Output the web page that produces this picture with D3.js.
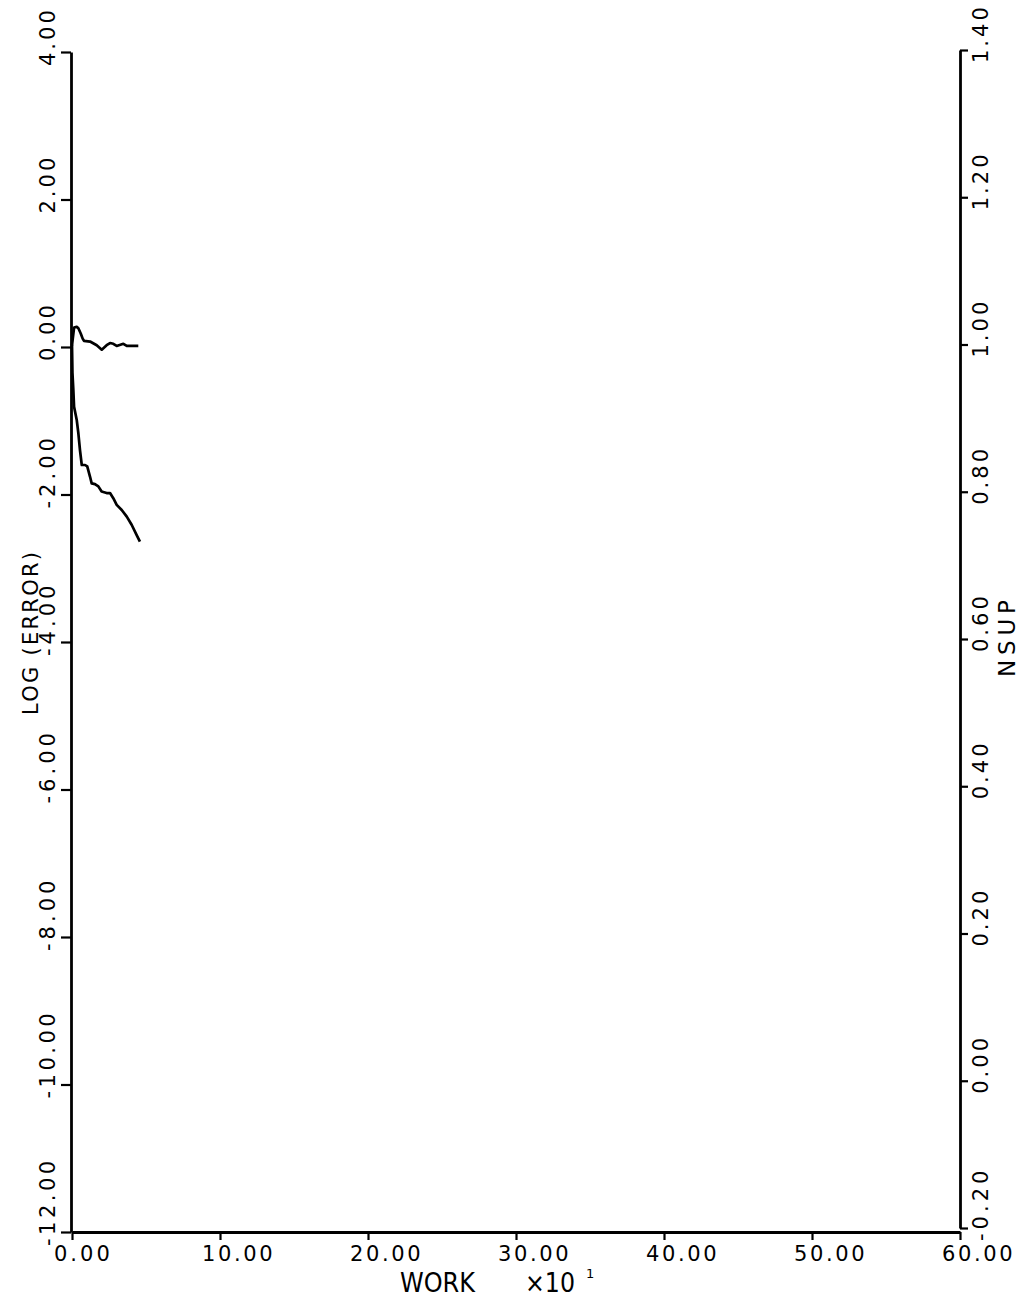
<!DOCTYPE html>
<html>
<head>
<meta charset="utf-8">
<script src="https://cdn.jsdelivr.net/npm/d3@7"></script>
<style>
  html, body { margin: 0; padding: 0; background: #fff; }
  svg { display: block; }
  text { font-family: "DejaVu Sans", "Liberation Sans", sans-serif; fill: #000; }
</style>
</head>
<body>
<svg id="chart" width="1027" height="1299"></svg>
<script>
// Tick values for the three axes
const workTicks = [0, 10, 20, 30, 40, 50, 60];
const errorTicks = [-12, -10, -8, -6, -4, -2, 0, 2, 4];
const nsupTicks = [-0.2, 0, 0.2, 0.4, 0.6, 0.8, 1.0, 1.2, 1.4];

// LOG(ERROR) history against work (units of 10)
const errWork  = [0, 0.03, 0.09, 0.14, 0.32, 0.43, 0.54, 0.66, 0.88, 1.03, 1.22, 1.33, 1.55, 1.78, 2.0, 2.34, 2.57, 2.79, 3.02, 3.36, 3.70, 4.03, 4.37, 4.59];
const logError = [0.03, -0.35, -0.58, -0.81, -0.99, -1.17, -1.40, -1.60, -1.60, -1.62, -1.76, -1.85, -1.86, -1.89, -1.96, -1.98, -1.98, -2.05, -2.14, -2.21, -2.30, -2.41, -2.55, -2.64];

// NSUP history against work
const nsupWork = [0, 0.14, 0.32, 0.43, 0.59, 0.72, 0.81, 1.22, 1.67, 2.01, 2.34, 2.57, 2.79, 3.02, 3.47, 3.70, 4.48];
const nsup     = [0.999, 1.023, 1.024, 1.022, 1.015, 1.008, 1.005, 1.004, 0.999, 0.993, 0.999, 1.002, 1.001, 0.998, 1.001, 0.998, 0.998];

const svg = d3.select("#chart");

const x = d3.scaleLinear().domain([0, 60]).range([72, 960]);
const yErr = d3.scaleLinear().domain([-12, 4]).range([1232, 52]);
const yNsup = d3.scaleLinear().domain([-0.2, 1.4]).range([1228, 50]);

const fmt = d => d3.format(".2f")(d).replace("\u2212", "-");

function styleAxis(g) {
  g.select(".domain").attr("stroke", "#000").attr("stroke-width", 2.8);
  g.selectAll(".tick line").attr("stroke", "#000").attr("stroke-width", 2.2);
  g.selectAll(".tick text").remove();
}

// Axes
svg.append("g")
  .attr("transform", `translate(0,${yErr(-12)})`)
  .call(d3.axisBottom(x).tickValues(workTicks).tickSize(8).tickSizeOuter(0))
  .call(styleAxis);

svg.append("g")
  .attr("transform", `translate(${x(0) - 1},0)`)
  .call(d3.axisLeft(yErr).tickValues(errorTicks).tickSize(10).tickSizeOuter(0))
  .call(styleAxis);

svg.append("g")
  .attr("transform", `translate(${x(60)},0)`)
  .call(d3.axisRight(yNsup).tickValues(nsupTicks).tickSize(8).tickSizeOuter(0))
  .call(styleAxis);

// Tick labels: fixed character pitch of a pen-plotter style font
const pitch = 14.7;
const labelStyle = sel => sel
  .attr("font-size", 21)
  .attr("lengthAdjust", "spacing")
  .attr("textLength", d => fmt(d).length * pitch - 3);

svg.append("g").selectAll("text").data(workTicks).join("text")
  .call(labelStyle)
  .attr("x", d => x(d) - 18)
  .attr("y", 1261)
  .text(fmt);

svg.append("g").selectAll("text").data(errorTicks).join("text")
  .call(labelStyle)
  .attr("transform", d => `translate(55,${yErr(d) + 14}) rotate(-90)`)
  .text(fmt);

svg.append("g").selectAll("text").data(nsupTicks).join("text")
  .call(labelStyle)
  .attr("transform", d => `translate(988,${yNsup(d) + 13}) rotate(-90)`)
  .text(fmt);

// Axis titles
svg.append("text")
  .attr("transform", "translate(38,715) rotate(-90)")
  .attr("font-size", 21)
  .attr("textLength", 163)
  .attr("lengthAdjust", "spacing")
  .text("LOG (ERROR)");

svg.append("text")
  .attr("transform", "translate(1015,677) rotate(-90)")
  .attr("font-size", 23)
  .attr("textLength", 77)
  .attr("lengthAdjust", "spacing")
  .text("NSUP");

svg.append("text")
  .attr("x", 400).attr("y", 1292)
  .attr("font-size", 27)
  .attr("textLength", 75)
  .attr("lengthAdjust", "spacingAndGlyphs")
  .text("WORK");

svg.append("text")
  .attr("x", 525).attr("y", 1292)
  .attr("font-size", 27)
  .attr("textLength", 50)
  .attr("lengthAdjust", "spacingAndGlyphs")
  .text("×10");

svg.append("text")
  .attr("x", 586).attr("y", 1278)
  .attr("font-size", 13)
  .text("1");

// Curves
const errLine = d3.line()
  .x((d, i) => x(errWork[i]))
  .y(d => yErr(d));

const nsupLine = d3.line()
  .x((d, i) => x(nsupWork[i]))
  .y(d => yNsup(d));

svg.append("path")
  .datum(logError)
  .attr("d", errLine)
  .attr("fill", "none")
  .attr("stroke", "#000")
  .attr("stroke-width", 2.7)
  .attr("stroke-linejoin", "round");

svg.append("path")
  .datum(nsup)
  .attr("d", nsupLine)
  .attr("fill", "none")
  .attr("stroke", "#000")
  .attr("stroke-width", 2.7)
  .attr("stroke-linejoin", "round");
</script>
</body>
</html>
